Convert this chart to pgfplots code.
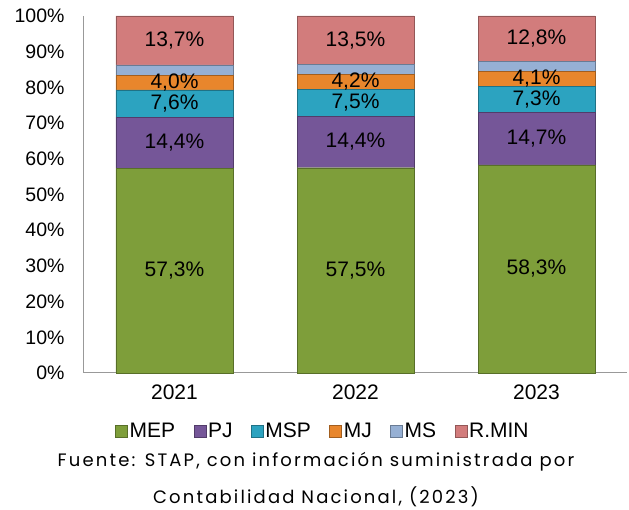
\documentclass[border=0pt]{standalone}
\usepackage{pgfplots}
\pgfplotsset{compat=1.18}
\usepackage{fontspec}
\setmainfont{Liberation Sans}
\newfontfamily\srcfont[LetterSpace=12]{Poppins}
\definecolor{cMEP}{RGB}{126,158,58}
\definecolor{cPJ}{RGB}{117,86,152}
\definecolor{cMSP}{RGB}{44,163,192}
\definecolor{cMJ}{RGB}{232,134,44}
\definecolor{cMS}{RGB}{150,176,212}
\definecolor{cRMIN}{RGB}{210,124,124}
\pgfplotsset{
  legsq/.style={legend image code/.code={\fill[##1] (0pt,-6pt) rectangle (12pt,6pt);}},
  geom/.style={scale only axis, width=543pt, height=357pt,
    xmin=-0.5, xmax=2.5, ymin=0, ymax=100},
}
\begin{document}
\begin{tikzpicture}[x=1pt,y=1pt]
\begin{axis}[
  geom,
  ybar stacked, bar width=117pt,
  axis lines*=left,
  axis line style={draw=black!40, line width=1pt},
  major tick length=0pt,
  xtick={0,1,2}, xticklabels={2021,2022,2023},
  ytick={0,10,...,100},
  yticklabel={\pgfmathprintnumber{\tick}\%},
  /pgf/number format/assume math mode=true,
  yticklabel style={font=\fontsize{19.5}{19.5}\selectfont, xshift=-16pt},
  xticklabel style={font=\fontsize{21}{21}\selectfont, yshift=-8pt},
  legend columns=6,
  legend style={draw=none, fill=none, at={(0.44,-0.162)}, anchor=center,
    font=\fontsize{21}{21}\selectfont,
    nodes={inner xsep=2pt},
    /tikz/every even column/.append style={column sep=16.5pt},
    /tikz/every odd column/.append style={column sep=0pt}},
  clip=false,
]
\addplot[fill=cMEP, draw=cMEP!70!black, legsq] coordinates {(0,57.3) (1,57.5) (2,58.3)};
\addplot[fill=cPJ, draw=cPJ!70!black, legsq] coordinates {(0,14.4) (1,14.4) (2,14.7)};
\addplot[fill=cMSP, draw=cMSP!70!black, legsq] coordinates {(0,7.6) (1,7.5) (2,7.3)};
\addplot[fill=cMJ, draw=cMJ!70!black, legsq] coordinates {(0,4.0) (1,4.2) (2,4.1)};
\addplot[fill=cMS, draw=cMS!70!black, legsq] coordinates {(0,3.0) (1,2.9) (2,2.8)};
\addplot[fill=cRMIN, draw=cRMIN!70!black, legsq] coordinates {(0,13.7) (1,13.5) (2,12.8)};
\legend{MEP,PJ,MSP,MJ,MS,R.MIN}
\end{axis}
\begin{axis}[geom, hide axis, clip=false]
\addplot[draw=none, mark=none, nodes near coords, point meta=explicit symbolic,
  nodes near coords style={anchor=center, font=\fontsize{21}{21}\selectfont, text=black}]
  table[meta=lab] {
x y lab
0 28.65 57,3\%
1 28.75 57,5\%
2 29.15 58,3\%
0 64.5 14,4\%
1 64.7 14,4\%
2 65.65 14,7\%
0 75.5 7,6\%
1 75.65 7,5\%
2 76.65 7,3\%
0 81.5 4,0\%
1 81.7 4,2\%
2 82.5 4,1\%
0 93.15 13,7\%
1 93.25 13,5\%
2 93.6 12,8\%
};
\end{axis}
\node[font=\srcfont\fontsize{18}{18}\selectfont] at (232,-89) {Fuente: STAP, con información suministrada por};
\node[font=\srcfont\fontsize{18}{18}\selectfont] at (232,-124) {Contabilidad Nacional, (2023)};
\pgfresetboundingbox
\path[use as bounding box] (-84,-137) rectangle (545,373);
\end{tikzpicture}
\end{document}
